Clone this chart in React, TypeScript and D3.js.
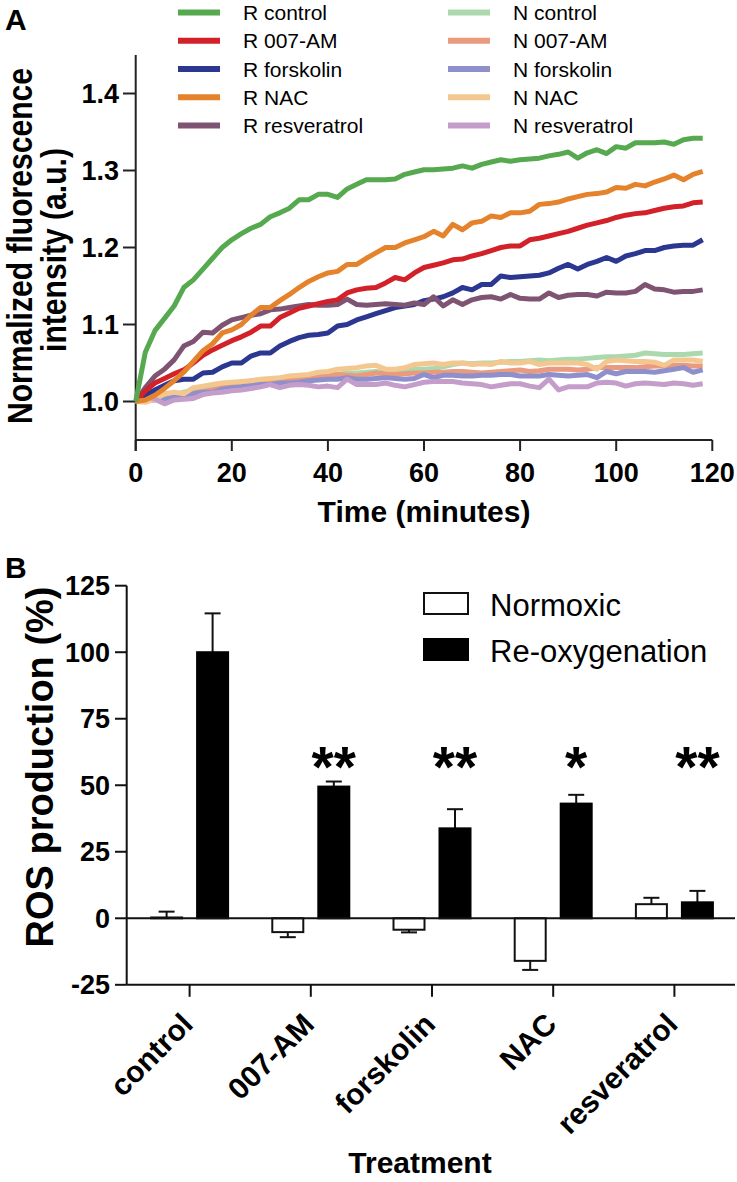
import React from "react";
import * as d3 from "d3";

const TIME = [0,2,4,6,8,10,12,14,16,18,20,22,24,26,28,30,32,34,36,38,40,42,44,46,48,50,52,54,56,58,60,62,64,66,68,70,72,74,76,78,80,82,84,86,88,90,92,94,96,98,100,102,104,106,108,110,112,114,116,118];

const R_CONTROL = [1.000,1.064,1.092,1.108,1.124,1.148,1.158,1.172,1.186,1.200,1.210,1.218,1.225,1.230,1.240,1.245,1.251,1.262,1.262,1.269,1.269,1.265,1.276,1.282,1.288,1.288,1.288,1.289,1.295,1.298,1.301,1.301,1.302,1.303,1.306,1.303,1.308,1.311,1.314,1.312,1.314,1.315,1.316,1.319,1.321,1.324,1.316,1.323,1.327,1.322,1.331,1.329,1.336,1.336,1.336,1.337,1.334,1.340,1.342,1.342];
const R_007AM = [1.000,1.014,1.024,1.030,1.036,1.041,1.050,1.060,1.067,1.073,1.079,1.084,1.090,1.098,1.098,1.109,1.115,1.121,1.124,1.127,1.130,1.132,1.141,1.145,1.147,1.148,1.154,1.161,1.158,1.167,1.174,1.177,1.180,1.184,1.185,1.189,1.192,1.196,1.200,1.202,1.202,1.210,1.212,1.215,1.218,1.221,1.225,1.229,1.232,1.235,1.239,1.242,1.244,1.245,1.248,1.251,1.253,1.254,1.258,1.259];
const R_FORSKOLIN = [1.000,1.008,1.015,1.021,1.027,1.029,1.029,1.037,1.038,1.045,1.050,1.050,1.059,1.063,1.063,1.072,1.078,1.083,1.086,1.087,1.089,1.098,1.100,1.106,1.110,1.114,1.118,1.122,1.124,1.126,1.131,1.133,1.136,1.141,1.148,1.145,1.152,1.152,1.163,1.161,1.162,1.163,1.164,1.167,1.173,1.178,1.172,1.178,1.182,1.187,1.182,1.189,1.192,1.196,1.196,1.200,1.202,1.203,1.203,1.210];
const R_NAC = [1.000,1.002,1.008,1.017,1.027,1.038,1.052,1.066,1.075,1.089,1.093,1.100,1.112,1.122,1.122,1.131,1.139,1.148,1.156,1.162,1.167,1.169,1.178,1.178,1.186,1.193,1.200,1.200,1.206,1.210,1.214,1.221,1.215,1.230,1.223,1.232,1.234,1.241,1.239,1.245,1.245,1.247,1.256,1.257,1.259,1.263,1.266,1.269,1.270,1.272,1.278,1.277,1.282,1.280,1.285,1.289,1.294,1.288,1.295,1.299];
const R_RESVERATROL = [1.000,1.018,1.033,1.042,1.054,1.072,1.078,1.090,1.089,1.099,1.106,1.109,1.112,1.114,1.119,1.120,1.122,1.124,1.126,1.125,1.125,1.126,1.133,1.126,1.125,1.126,1.127,1.126,1.125,1.128,1.126,1.136,1.124,1.132,1.126,1.132,1.135,1.136,1.133,1.139,1.134,1.133,1.133,1.141,1.135,1.138,1.139,1.139,1.137,1.142,1.141,1.141,1.143,1.152,1.146,1.145,1.142,1.143,1.143,1.145];

const N_CONTROL = [1.000,1.002,1.004,1.007,1.009,1.012,1.015,1.016,1.019,1.021,1.023,1.024,1.027,1.028,1.029,1.030,1.031,1.032,1.033,1.034,1.035,1.035,1.037,1.037,1.038,1.039,1.038,1.040,1.042,1.042,1.042,1.043,1.045,1.048,1.050,1.049,1.050,1.050,1.051,1.052,1.052,1.053,1.054,1.053,1.054,1.055,1.055,1.056,1.057,1.058,1.058,1.059,1.060,1.063,1.062,1.061,1.061,1.061,1.062,1.063];
const N_007AM = [1.000,1.001,1.002,1.004,1.006,1.008,1.011,1.013,1.015,1.018,1.021,1.022,1.024,1.026,1.027,1.028,1.028,1.029,1.030,1.033,1.033,1.035,1.034,1.033,1.035,1.037,1.036,1.035,1.036,1.037,1.037,1.038,1.038,1.039,1.039,1.038,1.037,1.038,1.039,1.040,1.041,1.039,1.040,1.042,1.042,1.042,1.041,1.042,1.044,1.044,1.044,1.044,1.044,1.045,1.046,1.046,1.047,1.047,1.046,1.046];
const N_FORSKOLIN = [1.000,1.001,1.003,1.002,1.006,1.008,1.010,1.012,1.012,1.016,1.018,1.019,1.021,1.022,1.022,1.024,1.024,1.025,1.027,1.028,1.029,1.029,1.031,1.029,1.029,1.030,1.031,1.030,1.029,1.030,1.035,1.031,1.034,1.034,1.033,1.033,1.034,1.034,1.035,1.035,1.033,1.033,1.033,1.035,1.034,1.033,1.034,1.035,1.031,1.039,1.036,1.039,1.039,1.039,1.038,1.040,1.042,1.044,1.038,1.041];
const N_NAC = [1.000,0.999,1.003,1.010,1.012,1.010,1.018,1.020,1.022,1.024,1.025,1.026,1.027,1.029,1.030,1.031,1.033,1.034,1.035,1.038,1.039,1.042,1.043,1.044,1.046,1.047,1.042,1.042,1.044,1.048,1.049,1.050,1.048,1.050,1.050,1.048,1.049,1.048,1.052,1.050,1.050,1.052,1.048,1.050,1.050,1.050,1.050,1.048,1.042,1.052,1.054,1.053,1.052,1.052,1.051,1.047,1.054,1.054,1.054,1.052];
const N_RESVERATROL = [1.000,1.006,1.003,0.997,1.002,1.003,1.004,1.009,1.011,1.012,1.014,1.015,1.017,1.019,1.022,1.018,1.021,1.022,1.021,1.019,1.020,1.018,1.029,1.022,1.022,1.022,1.024,1.021,1.019,1.022,1.025,1.026,1.026,1.026,1.024,1.023,1.022,1.019,1.021,1.023,1.023,1.020,1.018,1.029,1.015,1.019,1.019,1.019,1.024,1.025,1.024,1.020,1.023,1.024,1.023,1.022,1.024,1.023,1.021,1.023];

const Y_TICKS_A = [1.0, 1.1, 1.2, 1.3, 1.4];
const X_TICKS_A = [0, 20, 40, 60, 80, 100, 120];

const CATEGORIES = ["control", "007-AM", "forskolin", "NAC", "resveratrol"];
const NORMOXIC = [0.3, -5.2, -4.3, -16.0, 5.3];
const NORMOXIC_ERR = [2.2, 1.9, 1.0, 3.4, 2.4];
const REOX = [100.0, 49.5, 33.8, 43.1, 6.0];
const REOX_ERR = [14.6, 1.9, 7.2, 3.3, 4.3];
const SIGNIF = ["", "**", "**", "*", "**"];
const Y_TICKS_B = [-25, 0, 25, 50, 75, 100, 125];

const FONT = "'Liberation Sans', Arial, Helvetica, sans-serif";

type Series = { label: string; color: string; values: number[] };

const R_SERIES: Series[] = [
  { label: "R control", color: "#56a94f", values: R_CONTROL },
  { label: "R 007-AM", color: "#d3212a", values: R_007AM },
  { label: "R forskolin", color: "#2c3792", values: R_FORSKOLIN },
  { label: "R NAC", color: "#e5822c", values: R_NAC },
  { label: "R resveratrol", color: "#7e5472", values: R_RESVERATROL },
];
const N_SERIES: Series[] = [
  { label: "N control", color: "#abd9ad", values: N_CONTROL },
  { label: "N 007-AM", color: "#e99a7f", values: N_007AM },
  { label: "N forskolin", color: "#8e8fcb", values: N_FORSKOLIN },
  { label: "N NAC", color: "#f3c78f", values: N_NAC },
  { label: "N resveratrol", color: "#c49dca", values: N_RESVERATROL },
];

export default function App() {
  // Panel A scales
  const xA = d3.scaleLinear().domain([0, 120]).range([135.7, 712.3]);
  const yA = d3.scaleLinear().domain([0.95, 1.45]).range([440, 55]);
  const line = (vals: number[]) =>
    d3
      .line<number>()
      .x((_, i) => xA(TIME[i]))
      .y((v) => yA(v))(vals) || "";

  // Panel B scales
  const xB = d3.scaleBand().domain(CATEGORIES).range([129, 735]);
  const yB = d3.scaleLinear().domain([-25, 125]).range([984.8, 585.7]);
  const barW = 31;
  const off = 23;
  const axB = 126.7;

  const rDrawOrder = [2, 4, 1, 3, 0];

  return (
    <svg
      width={737}
      height={1182}
      style={{ position: "absolute", left: 0, top: 0, display: "block", background: "#fff" }}
      fontFamily={FONT}
    >
      {/* ---------- Panel A ---------- */}
      <text x={5} y={30} fontSize={30} fontWeight="bold">A</text>

      {/* legend */}
      {R_SERIES.map((s, i) => {
        const cy = 12.5 + i * 28.25;
        return (
          <g key={s.label}>
            <line x1={178} x2={220} y1={cy} y2={cy} stroke={s.color} strokeWidth={6} />
            <text x={243} y={cy + 7.5} fontSize={21}>{s.label}</text>
          </g>
        );
      })}
      {N_SERIES.map((s, i) => {
        const cy = 12.5 + i * 28.25;
        return (
          <g key={s.label}>
            <line x1={448} x2={490} y1={cy} y2={cy} stroke={s.color} strokeWidth={6} />
            <text x={513} y={cy + 7.5} fontSize={21}>{s.label}</text>
          </g>
        );
      })}

      {/* axes A */}
      <line x1={xA(0)} x2={xA(0)} y1={55} y2={451} stroke="#222" strokeWidth={2} />
      <line x1={xA(0)} x2={xA(120)} y1={440} y2={440} stroke="#222" strokeWidth={2} />
      {Y_TICKS_A.map((t) => (
        <g key={t}>
          <line x1={123} x2={xA(0)} y1={yA(t)} y2={yA(t)} stroke="#222" strokeWidth={2} />
          <text x={119} y={yA(t) + 9.5} fontSize={27} fontWeight="bold" textAnchor="end">
            {t.toFixed(1)}
          </text>
        </g>
      ))}
      {X_TICKS_A.map((t) => (
        <g key={t}>
          <line x1={xA(t)} x2={xA(t)} y1={440} y2={451} stroke="#222" strokeWidth={2} />
          <text x={xA(t)} y={482} fontSize={27} fontWeight="bold" textAnchor="middle">
            {t}
          </text>
        </g>
      ))}
      <text x={424} y={522} fontSize={30} fontWeight="bold" textAnchor="middle">
        Time (minutes)
      </text>
      <g transform="translate(32,246) rotate(-90) scale(0.86,1)">
        <text x={0} y={0} fontSize={35} fontWeight="bold" textAnchor="middle">
          Normalized fluorescence
        </text>
      </g>
      <g transform="translate(66,250) rotate(-90) scale(0.86,1)">
        <text x={0} y={0} fontSize={35} fontWeight="bold" textAnchor="middle">
          intensity (a.u.)
        </text>
      </g>

      {/* lines */}
      {N_SERIES.map((s) => (
        <path key={s.label} d={line(s.values)} fill="none" stroke={s.color} strokeWidth={5} strokeLinejoin="round" />
      ))}
      {rDrawOrder.map((i) => (
        <path
          key={R_SERIES[i].label}
          d={line(R_SERIES[i].values)}
          fill="none"
          stroke={R_SERIES[i].color}
          strokeWidth={5}
          strokeLinejoin="round"
        />
      ))}

      {/* ---------- Panel B ---------- */}
      <text x={5} y={578} fontSize={30} fontWeight="bold">B</text>

      <line x1={axB} x2={axB} y1={yB(125)} y2={yB(-25)} stroke="#111" strokeWidth={2} />
      {Y_TICKS_B.map((t) => (
        <g key={t}>
          <line x1={115} x2={axB} y1={yB(t)} y2={yB(t)} stroke="#111" strokeWidth={2} />
          <text x={110} y={yB(t) + 9.5} fontSize={27} fontWeight="bold" textAnchor="end">
            {t}
          </text>
        </g>
      ))}
      <line x1={axB} x2={735} y1={yB(-25)} y2={yB(-25)} stroke="#111" strokeWidth={2} />

      {CATEGORIES.map((c, i) => {
        const cx = (xB(c) as number) + xB.bandwidth() / 2;
        const nx = cx - off;
        const rx = cx + off;
        const nv = NORMOXIC[i];
        const rv = REOX[i];
        const nErrEnd = nv + Math.sign(nv || 1) * NORMOXIC_ERR[i];
        const rErrEnd = rv + REOX_ERR[i];
        return (
          <g key={c}>
            {/* normoxic */}
            <line x1={nx} x2={nx} y1={yB(nv)} y2={yB(nErrEnd)} stroke="#111" strokeWidth={2} />
            <line x1={nx - 8} x2={nx + 8} y1={yB(nErrEnd)} y2={yB(nErrEnd)} stroke="#111" strokeWidth={2} />
            <rect
              x={nx - barW / 2}
              y={Math.min(yB(nv), yB(0))}
              width={barW}
              height={Math.abs(yB(nv) - yB(0))}
              fill="#fff"
              stroke="#111"
              strokeWidth={2}
            />
            {/* re-oxygenation */}
            <line x1={rx} x2={rx} y1={yB(rv)} y2={yB(rErrEnd)} stroke="#111" strokeWidth={2} />
            <line x1={rx - 8} x2={rx + 8} y1={yB(rErrEnd)} y2={yB(rErrEnd)} stroke="#111" strokeWidth={2} />
            <rect
              x={rx - barW / 2}
              y={Math.min(yB(rv), yB(0))}
              width={barW}
              height={Math.abs(yB(rv) - yB(0))}
              fill="#000"
              stroke="#000"
              strokeWidth={2}
            />
            {SIGNIF[i] && (
              <text x={rx} y={787} fontSize={57} fontWeight="bold" textAnchor="middle">
                {SIGNIF[i]}
              </text>
            )}
            <line x1={cx} x2={cx} y1={yB(-25)} y2={yB(-25) + 12} stroke="#111" strokeWidth={2} />
            <g transform={`translate(${cx + 5},1026) rotate(-45)`}>
              <text x={0} y={0} fontSize={30} fontWeight="bold" textAnchor="end">
                {c}
              </text>
            </g>
          </g>
        );
      })}
      <line x1={axB} x2={735} y1={yB(0)} y2={yB(0)} stroke="#111" strokeWidth={2} />

      <text x={420} y={1173} fontSize={30} fontWeight="bold" textAnchor="middle">
        Treatment
      </text>
      <g transform="translate(53,767) rotate(-90)">
        <text x={0} y={0} fontSize={38} fontWeight="bold" textAnchor="middle">
          ROS production (%)
        </text>
      </g>

      {/* legend B */}
      <rect x={424} y={593} width={44} height={21} fill="#fff" stroke="#111" strokeWidth={2} />
      <text x={490} y={616} fontSize={31}>Normoxic</text>
      <rect x={424} y={639} width={44} height={21} fill="#000" stroke="#000" strokeWidth={2} />
      <text x={490} y={662} fontSize={31}>Re-oxygenation</text>
    </svg>
  );
}
